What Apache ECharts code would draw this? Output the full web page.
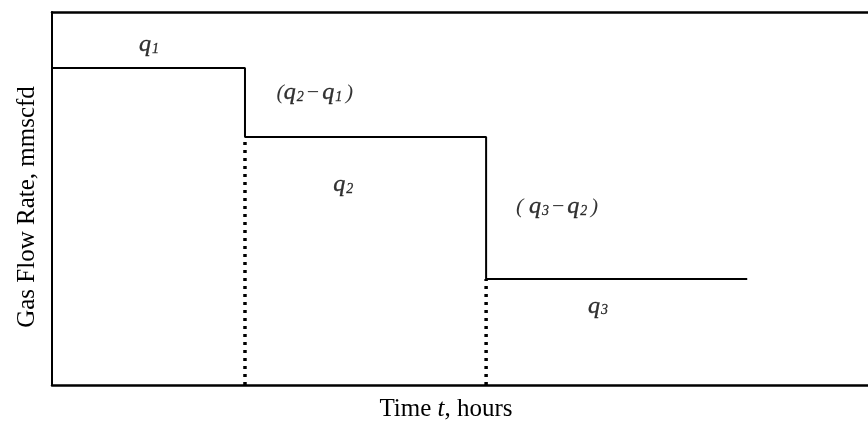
<!DOCTYPE html>
<html>
<head>
<meta charset="utf-8">
<script src="https://cdn.jsdelivr.net/npm/echarts@6/dist/echarts.min.js"></script>
<style>
html,body{margin:0;padding:0;background:#fff;}
#chart{width:868px;height:424px;}
</style>
</head>
<body>
<div id="chart"></div>
<script>
// Data (arbitrary units; schematic step-rate history)
var timeBreaks = [0, 23.65, 53.2, 85.2];   // start of each rate period, end of last
var rates = [85.0, 66.5, 28.4];            // q1, q2, q3
var labelNames = ['q1', 'q2-q1', 'q2', 'q3-q2', 'q3'];
var labelX = [11.9, 32.2, 35.7, 61.9, 66.9];
var labelY = [91.2, 78.3, 53.6, 47.7, 21.0];
var xTitle = 'Time t, hours';
var yTitle = 'Gas Flow Rate, mmscfd';

// Build the step line from the arrays
var stepData = [];
for (var i = 0; i < rates.length; i++) {
  stepData.push([timeBreaks[i], rates[i]]);
  stepData.push([timeBreaks[i + 1], rates[i]]);
}
// dotted lines at each rate change, from zero up to the new rate
var dottedSeries = [];
for (var j = 1; j < rates.length; j++) {
  dottedSeries.push({
    type: 'line', symbol: 'none', silent: true,
    data: [[timeBreaks[j], 0], [timeBreaks[j], rates[j]]],
    lineStyle: { color: '#000', width: 3.5, type: [3, 5], cap: 'butt' },
    z: 3
  });
}

var fontQ = 'Liberation Serif';
var rich = {
  q: { fontFamily: fontQ, fontStyle: 'italic', fontSize: 24, color: '#000', lineHeight: 30, verticalAlign: 'middle', textBorderColor: '#000', textBorderWidth: 0.4 },
  s: { fontFamily: fontQ, fontStyle: 'italic', fontSize: 14, color: '#000', lineHeight: 30, verticalAlign: 'bottom', padding: [0, 0, 4, 1], textBorderColor: '#000', textBorderWidth: 0.3 },
  p: { fontFamily: fontQ, fontStyle: 'italic', fontSize: 22, color: '#000', lineHeight: 30, verticalAlign: 'middle' },
  m: { fontFamily: fontQ, fontSize: 22, color: '#000', lineHeight: 30, verticalAlign: 'middle', padding: [0, 3, 0, 3] }
};
function fmtLabel(name) {
  if (name.indexOf('-') < 0) {
    return '{q|q}{s|' + name.charAt(1) + '}';
  }
  var parts = name.split('-');
  var pre = parts[0] === 'q3' ? '{p|( }' : '{p|(}';
  return pre + '{q|q}{s|' + parts[0].charAt(1) + '}{m|−}{q|q}{s|' + parts[1].charAt(1) + ' }{p|)}';
}
var labelData = labelNames.map(function (n, k) {
  return { value: [labelX[k], labelY[k]], name: n };
});

var chart = echarts.init(document.getElementById('chart'));
chart.setOption({
  animation: false,
  backgroundColor: '#fff',
  grid: { left: 52, right: 0, top: 12, bottom: 39, containLabel: false, outerBoundsMode: 'none' },
  xAxis: [{
    type: 'value', min: 0, max: 100,
    axisLine: { show: true, lineStyle: { color: '#000', width: 2.5 } },
    axisTick: { show: false }, axisLabel: { show: false }, splitLine: { show: false },
    name: '{n|Time }{i|t}{n|, hours}', nameLocation: 'middle', nameGap: 12,
    nameTextStyle: {
      padding: [0, 28, 0, 0],
      rich: {
        n: { fontFamily: 'Liberation Serif', fontSize: 25, color: '#000' },
        i: { fontFamily: 'Liberation Serif', fontStyle: 'italic', fontSize: 25, color: '#000' }
      }
    }
  }, {
    type: 'value', min: 0, max: 100, position: 'top',
    axisLine: { show: true, onZero: false, lineStyle: { color: '#000', width: 2.5 } },
    axisTick: { show: false }, axisLabel: { show: false }, splitLine: { show: false }
  }],
  yAxis: {
    type: 'value', min: 0, max: 100,
    axisLine: { show: true, lineStyle: { color: '#000', width: 2 } },
    axisTick: { show: false }, axisLabel: { show: false }, splitLine: { show: false },
    name: yTitle, nameLocation: 'middle', nameGap: 12, nameRotate: 90,
    nameTextStyle: { fontFamily: 'Liberation Serif', fontSize: 25, color: '#000', padding: [0, 17, 0, 0] }
  },
  series: [{
    type: 'line', symbol: 'none', silent: true,
    data: stepData,
    lineStyle: { color: '#000', width: 2 },
    z: 4
  }].concat(dottedSeries).concat([{
    type: 'scatter', symbolSize: 0, silent: true,
    data: labelData,
    label: {
      show: true, position: 'inside',
      formatter: function (p) { return fmtLabel(p.name); },
      rich: rich
    },
    z: 5
  }])
});
</script>
</body>
</html>
